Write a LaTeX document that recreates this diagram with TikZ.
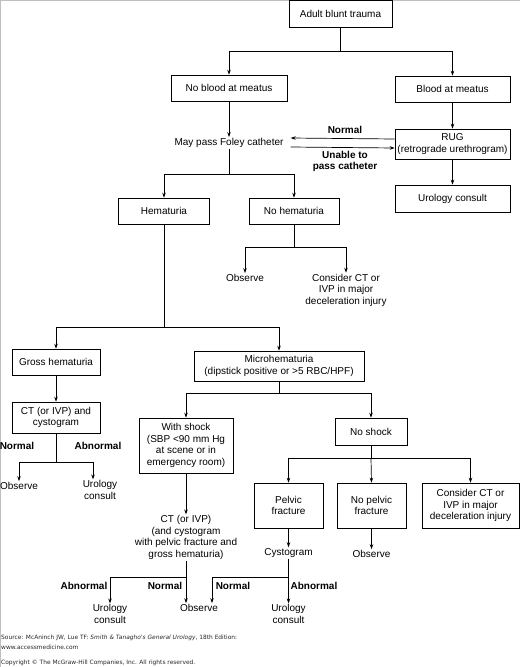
\documentclass[tikz,border=0pt]{standalone}
\usepackage{fontspec}
\setmainfont{Liberation Sans}
\newfontfamily\srcfont{DejaVu Sans}
\usetikzlibrary{arrows.meta}
\newcommand\flowfont{\fontsize{10}{11.5}\selectfont}
\tikzset{
  box/.style={draw, line width=0.6pt, align=center, inner sep=1pt, font=\flowfont},
  plain/.style={align=center, inner sep=1pt, font=\flowfont},
  lbl/.style={align=center, inner sep=0pt, font=\flowfont\bfseries},
  src/.style={anchor=west, inner sep=0pt, font=\srcfont\fontsize{5.9}{6.8}\selectfont, black!85},
  arr/.style={line width=0.7pt, -{Stealth[length=5pt,width=3.5pt]}},
  link/.style={line width=0.7pt}
}

\begin{document}
\begin{tikzpicture}[x=1pt, y=-1pt]
  \useasboundingbox (0,0) rectangle (520,667);
  \draw[gray!50, line width=1pt] (0.5,667) -- (0.5,0.5) -- (520,0.5);

  \node[box, minimum width=103pt, minimum height=27pt] (adult) at (340.5,13.5) {Adult blunt trauma};
  \node[box, minimum width=116pt, minimum height=26pt] (noblood) at (229,88) {No blood at meatus};
  \node[box, minimum width=115pt, minimum height=26pt] (blood) at (452.5,89) {Blood at meatus};
  \node[box, minimum width=115pt, minimum height=30pt] (rug) at (452.5,144) {RUG\\(retrograde urethrogram)};
  \node[box, minimum width=115pt, minimum height=27pt] (urocons1) at (452.5,198.5) {Urology consult};
  \node[plain, inner xsep=7pt] (foley) at (229,143) {May pass Foley catheter};
  \node[box, minimum width=91pt, minimum height=26pt] (hema) at (164,211) {Hematuria};
  \node[box, minimum width=90pt, minimum height=26pt] (nohema) at (294,211) {No hematuria};
  \node[plain] (observe1) at (245,278) {Observe};
  \node[plain] (consider1) at (346,290) {Consider CT or\\IVP in major\\deceleration injury};
  \node[box, minimum width=88pt, minimum height=26pt] (gross) at (56,362) {Gross hematuria};
  \node[box, minimum width=170pt, minimum height=30pt] (micro) at (279,366) {Microhematuria\\(dipstick positive or >5 RBC/HPF)};
  \node[box, minimum width=88pt, minimum height=31pt] (ctcysto) at (56,417.5) {CT (or IVP) and\\cystogram};
  \node[plain] (observe2) at (19,486) {Observe};
  \node[plain] (urocons2) at (100,490) {Urology\\consult};
  \node[box, minimum width=94pt, minimum height=55pt] (shock) at (186,445.5) {With shock\\(SBP <90 mm Hg\\at scene or in\\emergency room)};
  \node[box, minimum width=72pt, minimum height=27pt] (noshock) at (371,431.5) {No shock};
  \node[box, minimum width=69pt, minimum height=45pt] (pelvic) at (288.5,505.5) {Pelvic\\fracture};
  \node[box, minimum width=69pt, minimum height=45pt] (nopelvic) at (371.5,505.5) {No pelvic\\fracture};
  \node[box, minimum width=97pt, minimum height=45pt] (consider2) at (470.5,505.5) {Consider CT or\\IVP in major\\deceleration injury};
  \node[plain] (cysto) at (288.5,553) {Cystogram};
  \node[plain] (observe3) at (371.5,554) {Observe};
  \node[plain] (ctivp) at (186,537.5) {CT (or IVP)\\(and cystogram\\with pelvic fracture and\\gross hematuria)};
  \node[plain] (urocons3) at (110,614) {Urology\\consult};
  \node[plain] (observe4) at (199,608) {Observe};
  \node[plain] (urocons4) at (288.5,614) {Urology\\consult};

  \node[lbl] (normal1) at (345,130) {Normal};
  \node[lbl] (unable) at (345,161.5) {Unable to\\pass catheter};
  \node[lbl] (normal2) at (17,446) {Normal};
  \node[lbl] (abnormal1) at (98,446) {Abnormal};
  \node[lbl] (abnormal2) at (84,586) {Abnormal};
  \node[lbl] (normal3) at (165,586) {Normal};
  \node[lbl] (normal4) at (233,586) {Normal};
  \node[lbl] (abnormal3) at (314,586) {Abnormal};

  \coordinate (j1) at (340.5,51);
  \coordinate (j2) at (229,174);
  \coordinate (j3) at (294,247);
  \coordinate (j4) at (164,327);
  \coordinate (j5) at (56,462);
  \coordinate (j6) at (279,393);
  \coordinate (j7) at (371,458);
  \coordinate (j8) at (186,577);
  \coordinate (j9) at (288.5,577);

  \draw[link] (adult.south) -- (j1);
  \draw[arr] (j1) -| (noblood.north);
  \draw[arr] (j1) -| (blood.north);
  \draw[arr] (noblood.south) -- (foley.north);
  \draw[arr] (blood.south) -- (rug.north);
  \draw[arr] (rug.south) -- (urocons1.north);
  \draw[arr] ([yshift=5pt]rug.west) -- ([yshift=5pt]foley.east);
  \draw[arr] ([yshift=-4pt]foley.east) -- ([yshift=-4pt]rug.west);

  \draw[link] (foley.south) -- (j2);
  \draw[arr] (j2) -| (hema.north);
  \draw[arr] (j2) -| (nohema.north);
  \draw[link] (nohema.south) -- (j3);
  \draw[arr] (j3) -| (observe1.north);
  \draw[arr] (j3) -| (consider1.north);

  \draw[link] (hema.south) -- (j4);
  \draw[arr] (j4) -| (gross.north);
  \draw[arr] (j4) -| (micro.north);
  \draw[arr] (gross.south) -- (ctcysto.north);
  \draw[link] (ctcysto.south) -- (j5);
  \draw[arr] (j5) -| (observe2.north);
  \draw[arr] (j5) -| ([xshift=-7pt]urocons2.north);

  \draw[link] (micro.south) -- (j6);
  \draw[arr] (j6) -| (shock.north);
  \draw[arr] (j6) -| (noshock.north);
  \draw[link] (noshock.south) -- (j7);
  \draw[arr] (j7) -| (pelvic.north);
  \draw[arr] (j7) -- (nopelvic.north);
  \draw[arr] (j7) -| (consider2.north);
  \draw[arr] (pelvic.south) -- (cysto.north);
  \draw[arr] (nopelvic.south) -- (observe3.north);

  \draw[arr] (shock.south) -- (ctivp.north);
  \draw[link] (ctivp.south) -- (j8);
  \draw[arr] (j8) -| (urocons3.north);
  \draw[arr] (j8) -- (j8 |- observe4.north);
  \draw[link] (cysto.south) -- (j9);
  \draw[arr] (j9) -- (urocons4.north);
  \draw[arr] (j9) -| ([xshift=13pt]observe4.north);

  \node[src] (source) at (1,638) {Source: McAninch JW, Lue TF: \textit{Smith \& Tanagho's General Urology}, 18th Edition:};
  \node[src] (web) at (1,647) {www.accessmedicine.com};
  \node[src] (copyright) at (1,663) {Copyright \textcopyright{} The McGraw-Hill Companies, Inc. All rights reserved.};
\end{tikzpicture}
\end{document}
